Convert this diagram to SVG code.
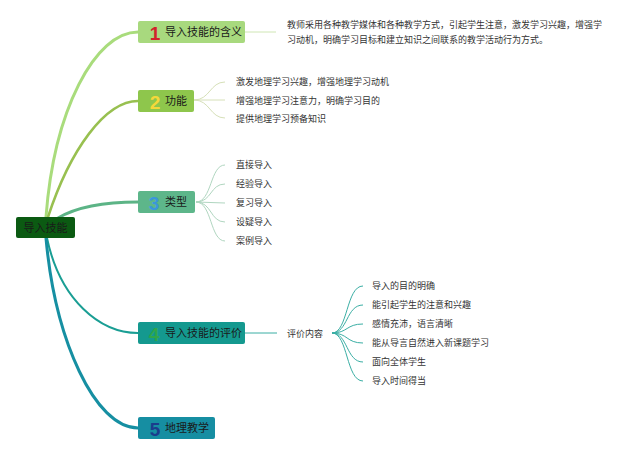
<svg xmlns="http://www.w3.org/2000/svg" width="640" height="455" viewBox="0 0 640 455">
<style>
text{font-family:"Noto Sans CJK SC","Liberation Sans",sans-serif}
.nt{font-size:11px;fill:#1a1a1a}
.lf{font-size:9px;fill:#333}
.num{font-family:"Liberation Sans","DejaVu Sans",sans-serif;font-weight:bold;font-size:19px}
.n1{fill:#d2232a}.n2{fill:#f4d83a}.n3{fill:#3b96db}.n4{fill:#2fa64a}.n5{fill:#1b3d8c}
.fan{fill:none;stroke-width:1}
.br{fill:none;stroke-linecap:round}
</style>
<rect width="640" height="455" fill="#ffffff"/>
<g id="connectors">
<path class="br" d="M46,217 C54,110 95,32 138,32" stroke="#a9dc7c" stroke-width="3"/>
<path class="br" d="M48,217 C70,150 105,101 138,101" stroke="#98c050" stroke-width="2.5"/>
<path class="br" d="M58,218 C80,205 110,202 138,202" stroke="#5cb486" stroke-width="3"/>
<path class="br" d="M47,238 C60,300 100,333 138,333" stroke="#1a9e94" stroke-width="2"/>
<path class="br" d="M46,238 C55,340 95,428 138,428" stroke="#168fa2" stroke-width="3"/>
<path class="fan" d="M245,32 L276,32" stroke="#cfe6b4"/>
<g stroke="#d6e0b8" class="fan">
<path d="M194,100 C210,100 210,82 225,82"/>
<path d="M194,100 L225,100"/>
<path d="M194,100 C210,100 210,118 225,118"/>
</g>
<g stroke="#b0d6c0" class="fan">
<path d="M196,202 C212,202 210,165 225,165"/>
<path d="M196,202 C212,202 210,184 225,184"/>
<path d="M196,202 L225,203"/>
<path d="M196,202 C212,202 210,222 225,222"/>
<path d="M196,202 C212,202 210,241 225,241"/>
</g>
<path class="fan" d="M245,333 L277,333" stroke="#3aaea4"/>
<g stroke="#3aaea4" class="fan">
<path d="M332,333 C348,333 346,286 363,286"/>
<path d="M332,333 C348,333 346,305 363,305"/>
<path d="M332,333 C348,333 346,324 363,324"/>
<path d="M332,333 C348,333 346,343 363,343"/>
<path d="M332,333 C348,333 346,362 363,362"/>
<path d="M332,333 C348,333 346,381 363,381"/>
</g>
</g>
<g id="root">
<rect x="16" y="217" width="59" height="21" rx="2" fill="#0b5a12"/>
<text class="nt" x="45.5" y="231.5" text-anchor="middle">导入技能</text>
</g>
<g id="node1">
<rect x="138" y="21" width="107" height="22" rx="2" fill="#a8d97e"/>
<text class="num n1" x="155" y="39.5" text-anchor="middle">1</text>
<text class="nt" x="165" y="36">导入技能的含义</text>
</g>
<g id="leaf1">
<text class="lf" x="287" y="28">教师采用各种教学媒体和各种教学方式，引起学生注意，激发学习兴趣，增强学</text>
<text class="lf" x="287" y="42.5">习动机，明确学习目标和建立知识之间联系的教学活动行为方式。</text>
</g>
<g id="node2">
<rect x="138" y="90" width="56" height="22" rx="2" fill="#8ec64c"/>
<text class="num n2" x="155" y="108.5" text-anchor="middle">2</text>
<text class="nt" x="165" y="105">功能</text>
</g>
<g id="leaves2">
<text class="lf" x="236" y="85">激发地理学习兴趣，增强地理学习动机</text>
<text class="lf" x="236" y="104">增强地理学习注意力，明确学习目的</text>
<text class="lf" x="236" y="122">提供地理学习预备知识</text>
</g>
<g id="node3">
<rect x="138" y="191" width="57" height="22" rx="2" fill="#5db68a"/>
<text class="num n3" x="154" y="209.5" text-anchor="middle">3</text>
<text class="nt" x="165" y="206">类型</text>
</g>
<g id="leaves3">
<text class="lf" x="236" y="168">直接导入</text>
<text class="lf" x="236" y="187">经验导入</text>
<text class="lf" x="236" y="206">复习导入</text>
<text class="lf" x="236" y="225">设疑导入</text>
<text class="lf" x="236" y="244">案例导入</text>
</g>
<g id="node4">
<rect x="138" y="322" width="107" height="22" rx="2" fill="#14998f"/>
<text class="num n4" x="154" y="340.5" text-anchor="middle">4</text>
<text class="nt" x="165" y="337">导入技能的评价</text>
</g>
<g id="eval">
<text class="lf" x="287" y="337">评价内容</text>
</g>
<g id="leaves4">
<text class="lf" x="372" y="289">导入的目的明确</text>
<text class="lf" x="372" y="308">能引起学生的注意和兴趣</text>
<text class="lf" x="372" y="327">感情充沛，语言清晰</text>
<text class="lf" x="372" y="346">能从导言自然进入新课题学习</text>
<text class="lf" x="372" y="365">面向全体学生</text>
<text class="lf" x="372" y="384">导入时间得当</text>
</g>
<g id="node5">
<rect x="138" y="417" width="77" height="22" rx="2" fill="#168ea2"/>
<text class="num n5" x="155" y="435.5" text-anchor="middle">5</text>
<text class="nt" x="165" y="432">地理教学</text>
</g>
</svg>
